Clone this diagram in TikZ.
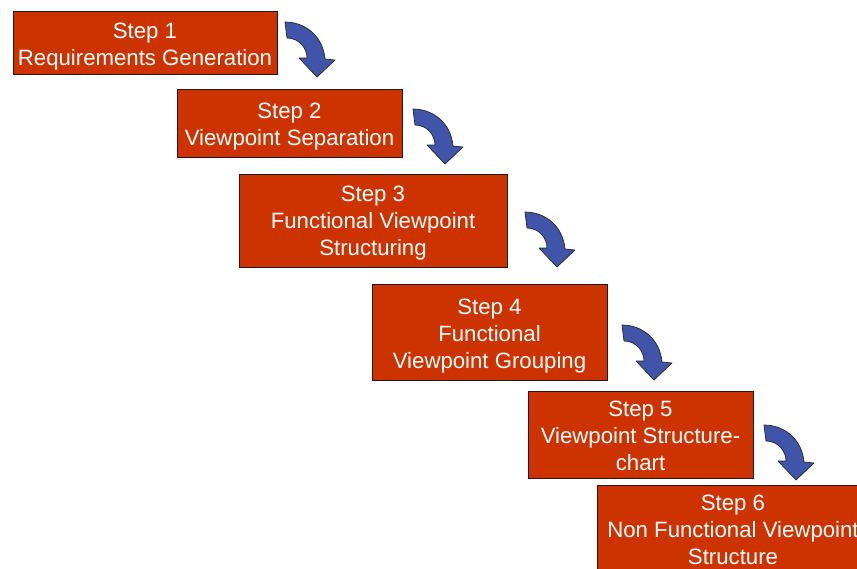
\documentclass[tikz,border=0pt]{standalone}
\usepackage{fontspec}
\setmainfont{Liberation Sans}
\definecolor{boxred}{RGB}{204,51,0}
\definecolor{arrowblue}{RGB}{64,84,170}
\definecolor{edgedark}{RGB}{40,20,20}
\tikzset{
  stepbox/.style={draw=edgedark, line width=0.8pt, fill=boxred, inner sep=0pt},
  steptext/.style={text=white, inner sep=0pt, align=center,
    font=\fontsize{22.2}{27}\selectfont},
  curvearrow/.pic={
    \draw[draw=black!85, line width=0.7pt, fill=arrowblue, line join=round]
      (0,0) .. controls (20,0) and (38,14) .. (40,37)
      -- (50,38) -- (32,55) -- (14,36) -- (22,36)
      .. controls (22,26) and (14,16) .. (2,16) -- cycle;
  }
}
\begin{document}
\begin{tikzpicture}[x=1pt,y=-1pt]
\useasboundingbox (0,0) rectangle (857,568);
\clip (0,0) rectangle (857,568);
\node[stepbox, minimum width=264pt, minimum height=63pt] (s1) at (145,42.5) {};
\node[stepbox, minimum width=225pt, minimum height=68pt] (s2) at (289.5,123) {};
\node[stepbox, minimum width=268pt, minimum height=93pt] (s3) at (373,220.5) {};
\node[stepbox, minimum width=235pt, minimum height=96pt] (s4) at (489.5,332) {};
\node[stepbox, minimum width=225pt, minimum height=87pt] (s5) at (640.5,434.5) {};
\node[stepbox, minimum width=272pt, minimum height=94pt] (s6) at (733,532) {};
\node[steptext] (t1) at ([yshift=-4pt]s1.center) {Step 1\\Requirements Generation};
\node[steptext] (t2) at ([yshift=-4pt]s2.center) {Step 2\\Viewpoint Separation};
\node[steptext] (t3) at ([yshift=-3pt]s3.center) {Step 3\\Functional Viewpoint\\Structuring};
\node[steptext] (t4) at ([yshift=-4pt]s4.center) {Step 4\\Functional\\Viewpoint Grouping};
\node[steptext] (t5) at ([yshift=-1pt]s5.center) {Step 5\\Viewpoint Structure-\\chart};
\node[steptext] (t6) at ([yshift=2pt]s6.center) {Step 6\\Non Functional Viewpoint\\Structure};
\coordinate (a1) at (285,22);
\coordinate (a2) at (413,109);
\coordinate (a3) at (525,212);
\coordinate (a4) at (622,325);
\coordinate (a5) at (764,425);
\pic at (a1) {curvearrow};
\pic at (a2) {curvearrow};
\pic at (a3) {curvearrow};
\pic at (a4) {curvearrow};
\pic at (a5) {curvearrow};
\end{tikzpicture}
\end{document}
